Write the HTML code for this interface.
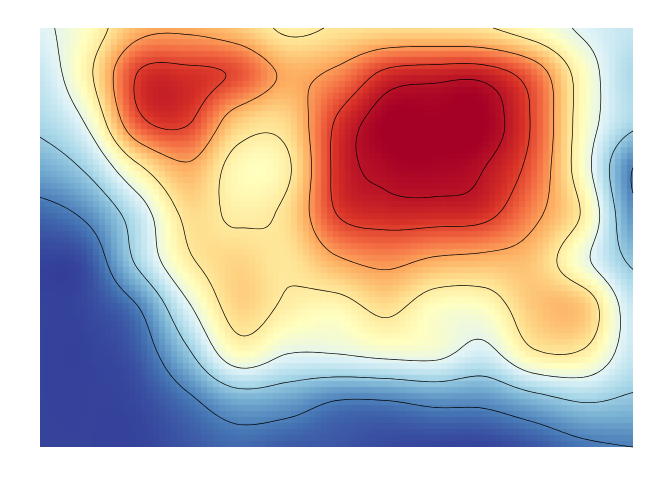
<!DOCTYPE html>
<html><head><meta charset="utf-8">
<style>
html,body{margin:0;padding:0;background:#fff;width:672px;height:480px;overflow:hidden;font-family:"Liberation Sans",sans-serif;}
#wrap{position:relative;width:672px;height:480px;}
#heat{position:absolute;left:40px;top:28px;}
#contours{position:absolute;left:0;top:0;}
</style></head>
<body>
<div id="wrap">
<canvas id="heat" width="593" height="419"></canvas>
<svg id="contours" width="672" height="480"></svg>
</div>
<script>
const xCenters = [0,1,2,3,4,5,6,7,8,9,10,11,12];
const yCenters = [0,1,2,3,4,5,6,7,8,9];
const row0 = [0.4,0.5,0.68,0.7,0.65,0.55,0.58,0.6,0.6,0.58,0.5,0.4,0.35];
const row1 = [0.35,0.55,0.88,0.9,0.85,0.7,0.75,0.9,0.93,0.93,0.8,0.5,0.3];
const row2 = [0.3,0.45,0.84,0.88,0.65,0.62,0.88,1.0,1.0,1.0,0.85,0.5,0.3];
const row3 = [0.2,0.3,0.55,0.7,0.52,0.55,0.9,0.98,0.99,0.96,0.82,0.48,0.12];
const row4 = [0.08,0.15,0.35,0.6,0.55,0.6,0.87,0.92,0.92,0.9,0.75,0.55,0.15];
const row5 = [0.02,0.05,0.3,0.55,0.62,0.58,0.7,0.75,0.7,0.68,0.65,0.45,0.25];
const row6 = [0.02,0.03,0.12,0.4,0.62,0.55,0.52,0.6,0.5,0.5,0.65,0.65,0.35];
const row7 = [0.02,0.02,0.06,0.25,0.5,0.42,0.42,0.45,0.45,0.38,0.55,0.55,0.35];
const row8 = [0.02,0.02,0.03,0.1,0.2,0.18,0.12,0.12,0.15,0.15,0.22,0.28,0.25];
const row9 = [0.02,0.02,0.02,0.05,0.08,0.06,0.05,0.03,0.02,0.02,0.05,0.1,0.12];
const rows = [row0,row1,row2,row3,row4,row5,row6,row7,row8,row9];
const levels = [0.12,0.27,0.42,0.57,0.72,0.87,0.96];
const palette = ["#313695","#4575b4","#74add1","#abd9e9","#e0f3f8","#ffffbf","#fee090","#fdae61","#f46d43","#d73027","#a50026"];

const PX=40, PY=28, PW=593, PH=419, NX=99, NY=70;
function cr(p0,p1,p2,p3,t){return 0.5*((2*p1)+(-p0+p2)*t+(2*p0-5*p1+4*p2-p3)*t*t+(-p0+3*p1-3*p2+p3)*t*t*t);}
function g(i,j){i=Math.max(0,Math.min(xCenters.length-1,i));j=Math.max(0,Math.min(yCenters.length-1,j));return rows[j][i];}
function sample(u,v){
  const i=Math.floor(u), j=Math.floor(v), tu=u-i, tv=v-j;
  const c=[];
  for(let k=-1;k<=2;k++) c.push(cr(g(i-1,j+k),g(i,j+k),g(i+1,j+k),g(i+2,j+k),tu));
  return Math.max(0,Math.min(1,cr(c[0],c[1],c[2],c[3],tv)));
}
function hex(h){return [parseInt(h.substr(1,2),16),parseInt(h.substr(3,2),16),parseInt(h.substr(5,2),16)];}
const pal=palette.map(hex);
function color(v){const t=v*(pal.length-1);const i=Math.min(pal.length-2,Math.floor(t));const f=t-i;
  const a=pal[i],b=pal[i+1];return `rgb(${Math.round(a[0]+(b[0]-a[0])*f)},${Math.round(a[1]+(b[1]-a[1])*f)},${Math.round(a[2]+(b[2]-a[2])*f)})`;}
const umax=xCenters.length-1, vmax=yCenters.length-1;
const ctx=document.getElementById('heat').getContext('2d');
const cw=PW/NX, ch=PH/NY;
for(let y=0;y<NY;y++)for(let x=0;x<NX;x++){
  ctx.fillStyle=color(sample((x+0.5)/NX*umax,(y+0.5)/NY*vmax));
  ctx.fillRect(Math.floor(x*cw),Math.floor(y*ch),Math.ceil(cw)+1,Math.ceil(ch)+1);}
const MX=180, MY=128, G=[];
for(let y=0;y<=MY;y++){G.push([]);for(let x=0;x<=MX;x++)G[y].push(sample(x/MX*umax,y/MY*vmax));}
const svg=document.getElementById('contours');
const sx=x=>PX+x/MX*PW, sy=y=>PY+y/MY*PH;
levels.forEach(L=>{
  let d='';
  for(let y=0;y<MY;y++)for(let x=0;x<MX;x++){
    const a=G[y][x],b=G[y][x+1],c=G[y+1][x+1],e=G[y+1][x];
    const pts=[];
    if((a<L)!==(b<L))pts.push([x+(L-a)/(b-a),y]);
    if((b<L)!==(c<L))pts.push([x+1,y+(L-b)/(c-b)]);
    if((e<L)!==(c<L))pts.push([x+(L-e)/(c-e),y+1]);
    if((a<L)!==(e<L))pts.push([x,y+(L-a)/(e-a)]);
    for(let k=0;k+1<pts.length;k+=2)
      d+=`M${sx(pts[k][0]).toFixed(1)} ${sy(pts[k][1]).toFixed(1)}L${sx(pts[k+1][0]).toFixed(1)} ${sy(pts[k+1][1]).toFixed(1)}`;
  }
  const p=document.createElementNS('http://www.w3.org/2000/svg','path');
  p.setAttribute('d',d);p.setAttribute('stroke','#000');p.setAttribute('stroke-width','0.7');p.setAttribute('fill','none');
  
  
  svg.appendChild(p);
});
</script>
</body></html>
